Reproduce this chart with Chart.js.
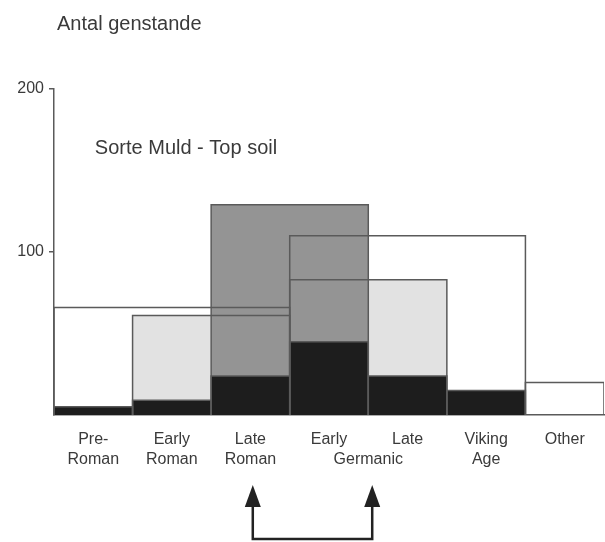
<!DOCTYPE html>
<html>
<head>
<meta charset="utf-8">
<title>Sorte Muld - Top soil</title>
<script src="https://cdn.jsdelivr.net/npm/chart.js@4.4.1/dist/chart.umd.min.js"></script>
<style>
  html, body { margin: 0; padding: 0; background: #fff; }
  #box { width: 605px; height: 542px; }
</style>
</head>
<body>
<div id="box"><canvas id="myChart"></canvas></div>
<script>
// Antal genstande pr. periode - Sorte Muld, top soil

var periodTop = ["Pre-", "Early", "Late", "Early", "Late", "Viking", "Other"];
var periodBottom = ["Roman", "Roman", "Roman", "", "", "Age", ""];
var sharedBottom = "Germanic";   // goes under Early + Late

// finds dated to one period only (black)
var singleCounts = [5, 9, 24, 45, 24, 15];

// finds dated to a range of periods: first column, end column, count
var rangeFrom = [0, 1, 2, 3, 3, 6];
var rangeTo = [3, 3, 4, 5, 6, 7];
var rangeCounts = [66, 61, 129, 83, 110, 20];

var yTicks = [100, 200];

var yTitle = "Antal genstande";
var soilTitle = "Sorte Muld - Top soil";
var arrowAt = [2.53, 4.05];

var font = "'Liberation Sans', Arial, sans-serif";
var textColor = "#3a3a3a";
var lineColor = "#5a5a5a";
var rangeFill = [null, "#e2e2e2", "#949494", "#e2e2e2", null, null];
var rangeOrder = [3, 2, 1, 2, 3, 3];

function rect(from, to, value){
  return [
    {x: from, y: 0},
    {x: from, y: value},
    {x: to, y: value},
    {x: to, y: 0}
  ];
}

var datasets = [];

for(var i = 0; i < singleCounts.length; i++){
  datasets.push({
    label: periodTop[i] + " " + periodBottom[i],
    data: rect(i, i + 1, singleCounts[i]),
    backgroundColor: "#1d1d1d",
    borderColor: lineColor,
    borderWidth: 1.5,
    fill: "origin",
    order: 0
  });
}

for(var j = 0; j < rangeCounts.length; j++){
  datasets.push({
    label: "range " + j,
    data: rect(rangeFrom[j], rangeTo[j], rangeCounts[j]),
    backgroundColor: rangeFill[j] || "rgba(0,0,0,0)",
    borderColor: lineColor,
    borderWidth: 1.5,
    fill: rangeFill[j] ? "origin" : false,
    order: rangeOrder[j]
  });
}

var xTickValues = [];
for(var k = 0; k < periodTop.length; k++){
  xTickValues.push(k + 0.5);
}
xTickValues.push(4);   // Germanic
xTickValues.sort(function(a, b){ return a - b; });

// title text and the two arrows under the axis
var notes = {
  id: "notes",
  afterDraw: function(chart){
    var ctx = chart.ctx;
    var area = chart.chartArea;
    var sx = chart.scales.x;
    var sy = chart.scales.y;

    ctx.save();
    ctx.fillStyle = textColor;
    ctx.textBaseline = "alphabetic";
    ctx.textAlign = "left";
    ctx.font = "20px " + font;
    ctx.fillText(yTitle, area.left + 3, 30);
    ctx.fillText(soilTitle, sx.getPixelForValue(0.52), sy.getPixelForValue(160));

    var x1 = sx.getPixelForValue(arrowAt[0]);
    var x2 = sx.getPixelForValue(arrowAt[1]);
    var tip = area.bottom + 70;
    var base = area.bottom + 90;
    var low = area.bottom + 124;

    ctx.strokeStyle = "#222";
    ctx.lineWidth = 2.5;
    ctx.beginPath();
    ctx.moveTo(x1, base);
    ctx.lineTo(x1, low);
    ctx.lineTo(x2, low);
    ctx.lineTo(x2, base);
    ctx.stroke();

    ctx.fillStyle = "#222";
    [x1, x2].forEach(function(x){
      ctx.beginPath();
      ctx.moveTo(x, tip);
      ctx.lineTo(x - 8, base + 2);
      ctx.lineTo(x + 8, base + 2);
      ctx.closePath();
      ctx.fill();
    });
    ctx.restore();
  }
};

var ctx = document.getElementById("myChart");

var myChart = new Chart(ctx, {
  type: "line",
  data: { datasets: datasets },
  options: {
    responsive: true,
    maintainAspectRatio: false,
    animation: false,
    layout: { padding: { top: 89, right: 1, bottom: 57, left: 0 } },
    elements: {
      point: { radius: 0, hoverRadius: 0 },
      line: { tension: 0, borderJoinStyle: "miter" }
    },
    plugins: {
      legend: { display: false },
      tooltip: { enabled: false },
      filler: { drawTime: "beforeDatasetsDraw" }
    },
    scales: {
      x: {
        type: "linear",
        min: 0,
        max: 7,
        afterBuildTicks: function(scale){
          scale.ticks = xTickValues.map(function(v){ return {value: v}; });
        },
        grid: { display: false, drawTicks: false },
        border: { display: true, color: lineColor, width: 1.5 },
        ticks: {
          autoSkip: false,
          maxRotation: 0,
          minRotation: 0,
          padding: 15,
          color: textColor,
          font: { size: 16, family: font, lineHeight: 1.25 },
          callback: function(value){
            if(value === 4) return ["", sharedBottom];
            var i = Math.floor(value);
            if(periodBottom[i]) return [periodTop[i], periodBottom[i]];
            return periodTop[i];
          }
        }
      },
      y: {
        min: 0,
        max: 200,
        afterBuildTicks: function(scale){
          scale.ticks = yTicks.map(function(v){ return {value: v}; });
        },
        afterFit: function(scale){
          scale.width = 54;
        },
        grid: { drawOnChartArea: false, drawTicks: true, tickLength: 5, color: lineColor, lineWidth: 1.5 },
        border: { display: true, color: lineColor, width: 1.5 },
        ticks: {
          padding: 5,
          color: textColor,
          font: { size: 16, family: font }
        }
      }
    }
  },
  plugins: [notes]
});
</script>
</body>
</html>
